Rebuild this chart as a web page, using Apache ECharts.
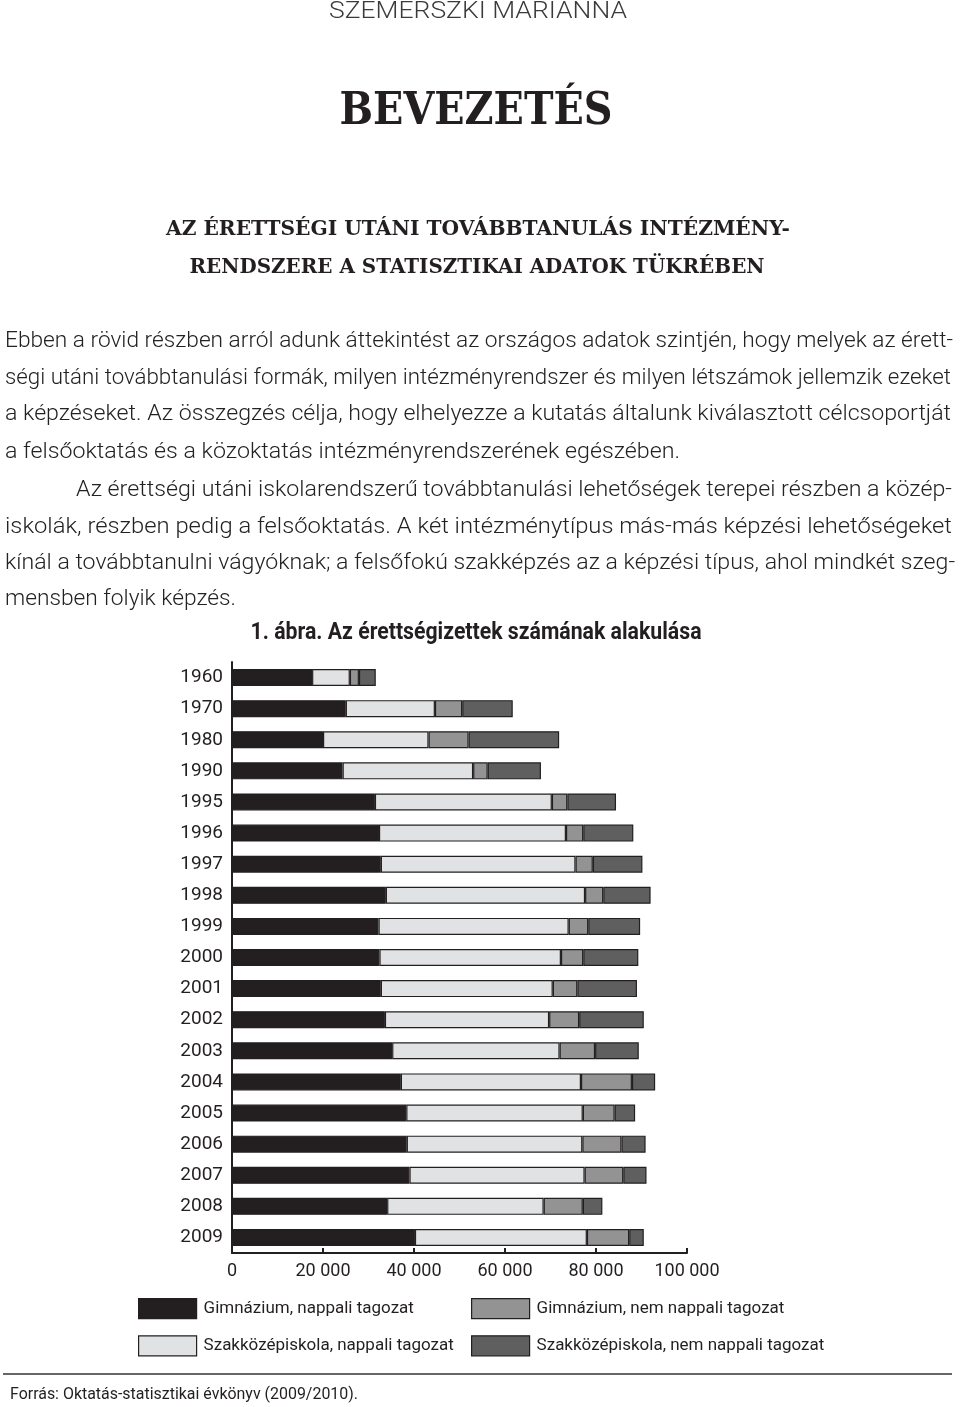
<!DOCTYPE html>
<html>
<head>
<meta charset="utf-8">
<script src="https://cdn.jsdelivr.net/npm/echarts@6/dist/echarts.min.js"></script>
<style>
html,body{margin:0;padding:0;background:#fff;}
#chart{width:960px;height:1407px;}
</style>
</head>
<body>
<div id="chart"></div>
<script>
// ---- Data ----
const years = ['1960','1970','1980','1990','1995','1996','1997','1998','1999','2000','2001','2002','2003','2004','2005','2006','2007','2008','2009'];
const gimNappali  = [17600, 25000, 20000, 24300, 31400, 32300, 32700, 33800, 32200, 32400, 32700, 33600, 35200, 37100, 38300, 38400, 39000, 34100, 40200];
const szakNappali = [8300, 19600, 23200, 28700, 38900, 41100, 42800, 43800, 41800, 39900, 37800, 36100, 36800, 39600, 38800, 38600, 38500, 34400, 37800];
const gimNem      = [2000, 6000, 8800, 3200, 3400, 3800, 3800, 4000, 4300, 4900, 5400, 6600, 7800, 11200, 7000, 8600, 8500, 8600, 9300];
const szakNem     = [3700, 11100, 19900, 11700, 10700, 11000, 10900, 10400, 11400, 12100, 13100, 14200, 9600, 5100, 4500, 5300, 5100, 4300, 3200];
const seriesNames = ['Gimnázium, nappali tagozat','Szakközépiskola, nappali tagozat','Gimnázium, nem nappali tagozat','Szakközépiskola, nem nappali tagozat'];
const xTicks = [0, 20000, 40000, 60000, 80000, 100000];

const author = 'SZEMERSZKI MARIANNA';
const mainTitle = 'BEVEZETÉS';
const subTitle = ['AZ ÉRETTSÉGI UTÁNI TOVÁBBTANULÁS INTÉZMÉNY-','RENDSZERE A STATISZTIKAI ADATOK TÜKRÉBEN'];
const paragraph = [
 'Ebben a rövid részben arról adunk áttekintést az országos adatok szintjén, hogy melyek az érett-',
 'ségi utáni továbbtanulási formák, milyen intézményrendszer és milyen létszámok jellemzik ezeket',
 'a képzéseket. Az összegzés célja, hogy elhelyezze a kutatás általunk kiválasztott célcsoportját',
 'a felsőoktatás és a közoktatás intézményrendszerének egészében.',
 'Az érettségi utáni iskolarendszerű továbbtanulási lehetőségek terepei részben a közép-',
 'iskolák, részben pedig a felsőoktatás. A két intézménytípus más-más képzési lehetőségeket',
 'kínál a továbbtanulni vágyóknak; a felsőfokú szakképzés az a képzési típus, ahol mindkét szeg-',
 'mensben folyik képzés.'
];
const figTitle = '1. ábra. Az érettségizettek számának alakulása';
const source = 'Forrás: Oktatás-statisztikai évkönyv (2009/2010).';

// ---- Layout/style ----
const ink = '#231f20';
const colors = ['#231f20', '#e1e2e3', '#939394', '#5f5f60'];

const cv = document.createElement('canvas').getContext('2d');
function measure(font, text){ cv.font = font; return cv.measureText(text).width; }
const sans = 'Roboto, "Liberation Sans", sans-serif';
const serif = '"DejaVu Serif", "Liberation Serif", serif';

function fitText(text, x, y, width, font, align, fill){
  const w = measure(font, text);
  return {
    type: 'text', x: x, y: y, scaleX: width / w, silent: true,
    style: { text: text, x: 0, y: 0, font: font, fill: fill || ink,
      textAlign: align || 'left', align: align || 'left',
      textVerticalAlign: 'middle', verticalAlign: 'middle' }
  };
}

const graphics = [];
graphics.push(fitText(author, 478, 12, 298, '300 23px ' + sans, 'center', '#3a3a3a'));
graphics.push(fitText(mainTitle, 476, 113, 273, 'bold 44px ' + serif, 'center'));
graphics.push(fitText(subTitle[0], 478, 230, 624, 'bold 21px ' + serif, 'center'));
graphics.push(fitText(subTitle[1], 477, 268, 575, 'bold 21px ' + serif, 'center'));
const parY = [341, 378, 414, 452, 490, 527, 563, 599];
const parX = [5, 5, 5, 5, 76, 5, 5, 5];
const parEnd = [953, 951, 951, 680, 952, 952, 955, 236];
paragraph.forEach((t, i) => {
  graphics.push(fitText(t, parX[i], parY[i], parEnd[i] - parX[i], '300 22px ' + sans, 'left', '#222'));
});
graphics.push(fitText(figTitle, 476, 633, 451, 'bold 23px ' + sans, 'center'));
graphics.push({ type: 'line', silent: true, shape: { x1: 3, y1: 1374, x2: 952, y2: 1374 },
  style: { stroke: '#333', lineWidth: 1.5 } });
graphics.push(fitText(source, 10, 1395, 348, '17px ' + sans, 'left'));

const valuesList = [gimNappali, szakNappali, gimNem, szakNem];
const series = valuesList.map((vals, i) => ({
  name: seriesNames[i], type: 'bar', stack: 'total', barWidth: 17,
  data: vals,
  itemStyle: { color: colors[i], borderColor: ink, borderWidth: 1.2 },
  emphasis: { disabled: true }
}));

const legendCommon = {
  orient: 'vertical', top: 1298, itemWidth: 58, itemHeight: 20, itemGap: 16, padding: 0,
  icon: 'rect', selectedMode: false,
  itemStyle: { borderColor: ink, borderWidth: 1.2 },
  textStyle: { fontFamily: sans, fontSize: 17, color: ink, padding: [4, 0, 0, 2] }
};

const chart = echarts.init(document.getElementById('chart'), null, { renderer: 'canvas' });
chart.setOption({
  animation: false,
  backgroundColor: '#fff',
  grid: { left: 232, top: 662, width: 455, height: 591, containLabel: false },
  xAxis: {
    type: 'value', min: xTicks[0], max: xTicks[xTicks.length - 1], interval: xTicks[1] - xTicks[0],
    axisLine: { show: true, lineStyle: { color: ink, width: 2 } },
    axisTick: { show: true, inside: true, length: 5, lineStyle: { color: ink, width: 2 } },
    splitLine: { show: false },
    axisLabel: { fontFamily: sans, fontSize: 18, color: ink, margin: 9,
      formatter: v => String(v).replace(/\B(?=(\d{3})+(?!\d))/g, ' ') }
  },
  yAxis: {
    type: 'category', inverse: true, data: years,
    axisLine: { show: true, lineStyle: { color: ink, width: 2 } },
    axisTick: { show: false },
    axisLabel: { fontFamily: sans, fontSize: 19, color: ink, margin: 9 }
  },
  legend: [
    Object.assign({}, legendCommon, { left: 138, data: [seriesNames[0], seriesNames[1]] }),
    Object.assign({}, legendCommon, { left: 471, data: [seriesNames[2], seriesNames[3]] })
  ],
  series: series,
  graphic: { elements: graphics }
});
</script>
</body>
</html>
